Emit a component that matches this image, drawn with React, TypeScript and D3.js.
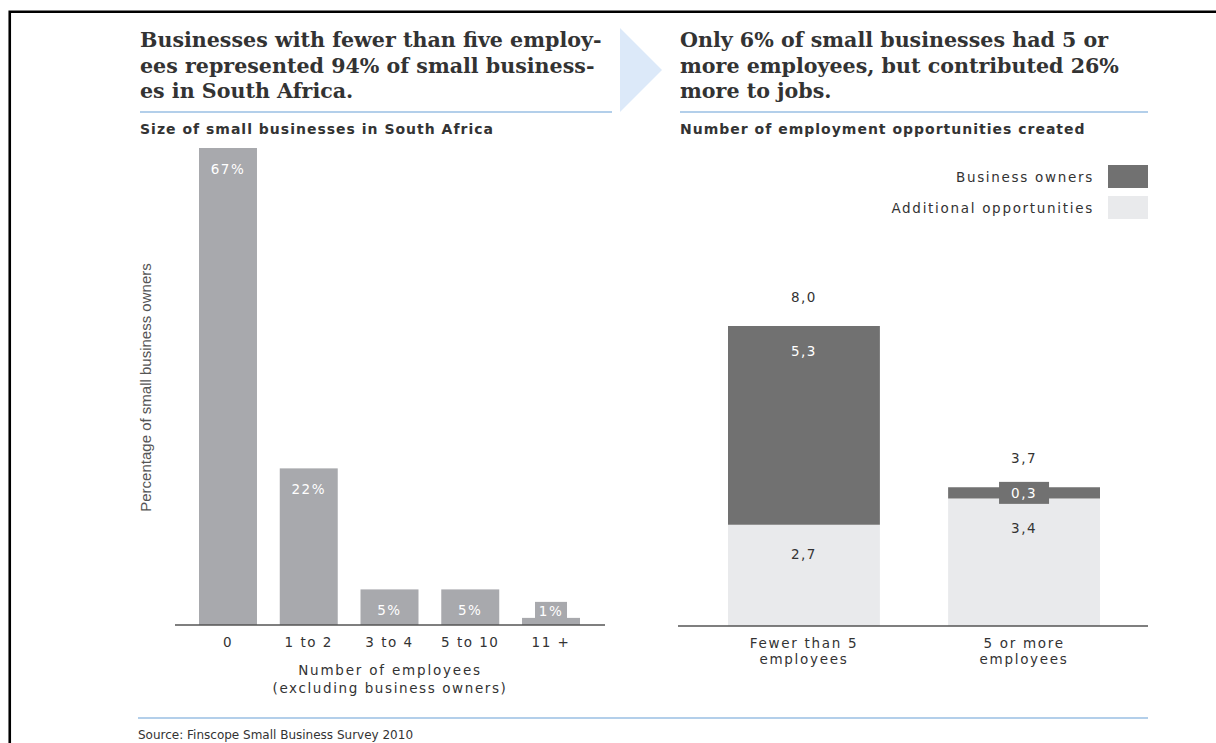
import React from "react";
import * as d3 from "d3";

const sizeCategories = ["0", "1 to 2", "3 to 4", "5 to 10", "11 +"];
const sizeShares = [67, 22, 5, 5, 1];

const jobCategories = ["Fewer than 5|employees", "5 or more|employees"];
const ownersValues = [5.3, 0.3];
const additionalValues = [2.7, 3.4];
const totalValues = [8.0, 3.7];

const legendLabels = ["Business owners", "Additional opportunities"];

const leftTitle = [
  "Businesses with fewer than five employ-",
  "ees represented 94% of small business-",
  "es in South Africa.",
];
const rightTitle = [
  "Only 6% of small businesses had 5 or",
  "more employees, but contributed 26%",
  "more to jobs.",
];

const SERIF = "'DejaVu Serif', serif";
const SANS = "'DejaVu Sans', sans-serif";
const NARROW = "'Liberation Sans Narrow', 'Liberation Sans', sans-serif";

const BAR_GREY = "#a8a9ad";
const DARK = "#717171";
const LIGHT = "#e9eaec";
const TEXT = "#333333";
const RULE = "#b3cfea";

const commaFmt = (v: number) => d3.format(".1f")(v).replace(".", ",");

const lab = { fontFamily: SANS, fontSize: 13.5, letterSpacing: 1.5 };

export default function App() {
  const W = 1216;
  const H = 743;

  const xL = d3.scaleBand<string>().domain(sizeCategories).range([199, 580]).paddingInner(0.282).paddingOuter(0);
  const yL = d3.scaleLinear().domain([0, 67]).range([625, 148]);

  const xR = d3.scaleBand<string>().domain(jobCategories).range([728, 1100]).paddingInner(0.31).paddingOuter(0);
  const yR = d3.scaleLinear().domain([0, 8]).range([626, 326]);

  return (
    <div style={{ position: "absolute", left: 0, top: 0 }}>
      <svg width={W} height={H} style={{ display: "block" }}>
        <rect x={0} y={0} width={W} height={H} fill="#ffffff" />
        <path d={`M9.75,${H} V11.75 H${W}`} fill="none" stroke="#000" strokeWidth={2.6} />

        <polygon points="620,28 662,70 620,112" fill="#dce9f9" />

        {leftTitle.map((t, i) => (
          <text key={"lt" + i} x={140} y={47 + i * 25.5} fontFamily={SERIF} fontWeight="bold" fontSize={20.6} fill={TEXT}>
            {t}
          </text>
        ))}
        {rightTitle.map((t, i) => (
          <text key={"rt" + i} x={680} y={47 + i * 25.5} fontFamily={SERIF} fontWeight="bold" fontSize={20.6} fill={TEXT}>
            {t}
          </text>
        ))}
        <line x1={140} x2={612} y1={112} y2={112} stroke={RULE} strokeWidth={2} />
        <line x1={680} x2={1148} y1={112} y2={112} stroke={RULE} strokeWidth={2} />

        <text x={140} y={134} fontFamily={SANS} fontWeight="bold" fontSize={14} letterSpacing={1} fill={TEXT}>
          Size of small businesses in South Africa
        </text>
        <text x={680} y={134} fontFamily={SANS} fontWeight="bold" fontSize={14} letterSpacing={1} fill={TEXT}>
          Number of employment opportunities created
        </text>

        <text
          transform={`translate(151,${(265 + 510) / 2}) rotate(-90)`}
          textAnchor="middle"
          fontFamily={NARROW}
          fontSize={15}
          fill="#555"
        >
          Percentage of small business owners
        </text>
        {sizeCategories.map((c, i) => {
          const x = xL(c)!;
          const bw = xL.bandwidth();
          const top = yL(sizeShares[i]);
          const small = yL(0) - top < 24;
          const cx = x + bw / 2;
          return (
            <g key={"lb" + c}>
              <rect x={x} y={top} width={bw} height={yL(0) - top} fill={BAR_GREY} />
              {small && <rect x={cx - 16} y={top - 16} width={32} height={18} fill={BAR_GREY} />}
              <text x={cx} y={small ? top - 2 : top + 26} textAnchor="middle" {...lab} fill="#fff">
                {sizeShares[i] + "%"}
              </text>
              <text x={cx} y={647} textAnchor="middle" {...lab} fill={TEXT}>
                {c}
              </text>
            </g>
          );
        })}
        <line x1={175} x2={605} y1={yL(0)} y2={yL(0)} stroke="#555" strokeWidth={1.5} />
        <text x={390} y={675} textAnchor="middle" {...lab} letterSpacing={1.8} fill={TEXT}>
          Number of employees
        </text>
        <text x={390} y={693} textAnchor="middle" {...lab} letterSpacing={1.6} fill={TEXT}>
          (excluding business owners)
        </text>

        {legendLabels.map((l, i) => (
          <g key={"lg" + i}>
            <rect x={1108} y={165 + i * 31} width={40} height={23} fill={i === 0 ? DARK : LIGHT} />
            <text x={1094} y={182 + i * 31} textAnchor="end" {...lab} letterSpacing={1.7} fill={TEXT}>
              {l}
            </text>
          </g>
        ))}

        {jobCategories.map((c, i) => {
          const x = xR(c)!;
          const bw = xR.bandwidth();
          const cx = x + bw / 2;
          const addTop = yR(additionalValues[i]);
          const ownTop = yR(additionalValues[i] + ownersValues[i]);
          const ownH = addTop - ownTop;
          const smallOwn = ownH < 24;
          const totTop = yR(totalValues[i]);
          const lines = c.split("|");
          return (
            <g key={"rb" + i}>
              <rect x={x} y={addTop} width={bw} height={yR(0) - addTop} fill={LIGHT} />
              <rect x={x} y={ownTop} width={bw} height={ownH} fill={DARK} />
              {smallOwn && <rect x={cx - 25} y={ownTop + ownH / 2 - 11} width={50} height={22} fill={DARK} />}
              <text x={cx} y={smallOwn ? ownTop + ownH / 2 + 5 : ownTop + 30} textAnchor="middle" {...lab} fill="#fff">
                {commaFmt(ownersValues[i])}
              </text>
              <text x={cx} y={addTop + 34} textAnchor="middle" {...lab} fill={TEXT}>
                {commaFmt(additionalValues[i])}
              </text>
              <text x={cx} y={Math.min(totTop, ownTop) - 24} textAnchor="middle" {...lab} fill={TEXT}>
                {commaFmt(totalValues[i])}
              </text>
              {lines.map((ln, j) => (
                <text key={j} x={cx} y={648 + j * 16} textAnchor="middle" {...lab} letterSpacing={1.7} fill={TEXT}>
                  {ln}
                </text>
              ))}
            </g>
          );
        })}
        <line x1={678} x2={1148} y1={yR(0)} y2={yR(0)} stroke="#555" strokeWidth={1.5} />

        <line x1={138} x2={1148} y1={718} y2={718} stroke={RULE} strokeWidth={2} />
        <text x={138} y={739} fontFamily={SANS} fontSize={12} fill={TEXT} letterSpacing={0}>
          Source: Finscope Small Business Survey 2010
        </text>
      </svg>
    </div>
  );
}
